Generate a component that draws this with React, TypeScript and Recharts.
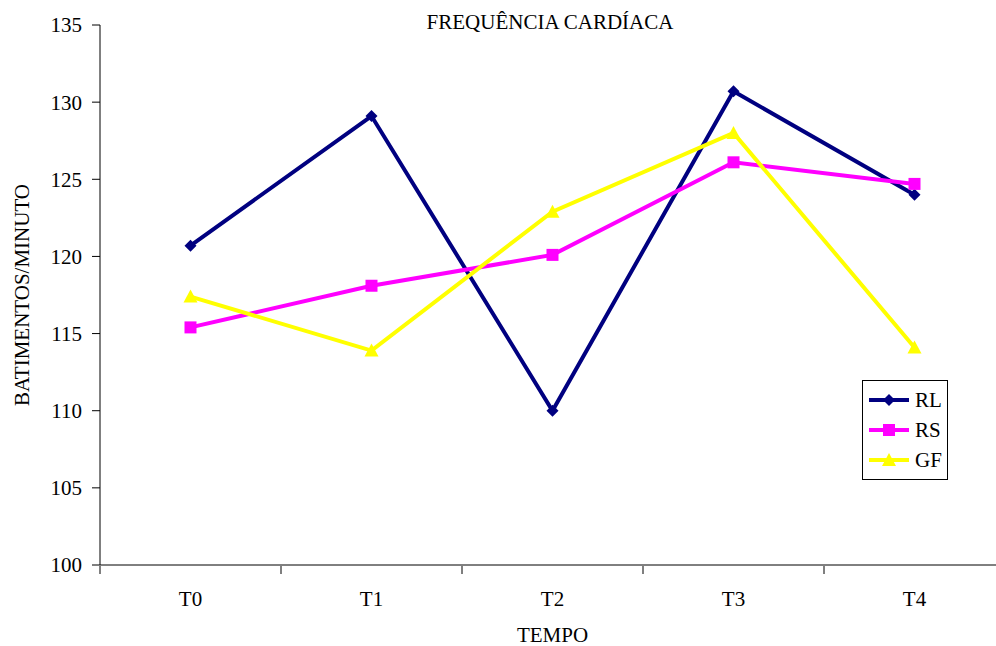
import { LineChart, Line, XAxis, YAxis } from 'recharts'

const categories = ['T0', 'T1', 'T2', 'T3', 'T4']
const rl = [120.7, 129.1, 110.0, 130.7, 124.0]
const rs = [115.4, 118.1, 120.1, 126.1, 124.7]
const gf = [117.4, 113.9, 122.9, 128.0, 114.1]
const yTicks = [100, 105, 110, 115, 120, 125, 130, 135]

const data = categories.map((c, i) => ({ name: c, RL: rl[i], RS: rs[i], GF: gf[i] }))
const font = '"Liberation Serif", "Times New Roman", serif'
const fs = 21
const half = 90.5

const series = [
  { key: 'RL', color: '#000080', shape: 'diamond' },
  { key: 'RS', color: '#ff00ff', shape: 'square' },
  { key: 'GF', color: '#ffff00', shape: 'triangle' },
]

function Marker({ cx, cy, shape, color }: any) {
  if (cx == null || cy == null) return null
  if (shape === 'diamond') return <polygon points={`${cx},${cy - 6} ${cx + 6},${cy} ${cx},${cy + 6} ${cx - 6},${cy}`} fill={color} />
  if (shape === 'square') return <rect x={cx - 6} y={cy - 6} width={12} height={12} fill={color} />
  return <polygon points={`${cx},${cy - 7} ${cx + 7},${cy + 6} ${cx - 7},${cy + 6}`} fill={color} />
}

// category label plus tick marks at the category boundaries
function CatTick({ x, y, payload, index }: any) {
  const top = y - 1
  return (
    <g>
      <line x1={x - half} y1={top} x2={x - half} y2={top + 8} stroke="#000" />
      {index === categories.length - 1 && <line x1={x + half} y1={top} x2={x + half} y2={top + 8} stroke="#000" />}
      <text x={x} y={top + 40} textAnchor="middle" fill="#000" fontFamily={font} fontSize={fs}>{payload.value}</text>
    </g>
  )
}

function LegendBox() {
  return (
    <div style={{ position: 'absolute', left: 862, top: 380, width: 86, boxSizing: 'border-box', border: '1px solid #000', background: '#fff', padding: '4px 4px', fontFamily: font, fontSize: fs }}>
      {series.map((s) => (
        <div key={s.key} style={{ display: 'flex', alignItems: 'center', height: 30 }}>
          <svg width={44} height={16}>
            <line x1={2} y1={8} x2={42} y2={8} stroke={s.color} strokeWidth={4} />
            <Marker cx={22} cy={8} shape={s.shape} color={s.color} />
          </svg>
          <span style={{ marginLeft: 4 }}>{s.key}</span>
        </div>
      ))}
    </div>
  )
}

export default function App() {
  return (
    <div style={{ position: 'absolute', left: 0, top: 0, width: 996, height: 646, overflow: 'hidden', background: '#fff' }}>
      <div style={{ position: 'absolute', left: 0, width: 1100, top: 10, textAlign: 'center', fontFamily: font, fontSize: fs }}>
        FREQUÊNCIA CARDÍACA
      </div>
      <LineChart width={1010} height={646} data={data} margin={{ top: 25, right: 5, left: 0, bottom: 0 }}>
        <XAxis dataKey="name" height={81} stroke="#000" tickLine={false} tickSize={0} padding={{ left: half, right: half }}
          tick={<CatTick />} interval={0}
          label={{ value: 'TEMPO', position: 'insideBottom', offset: 4, fill: '#000', fontFamily: font, fontSize: fs }} />
        <YAxis domain={[100, 135]} ticks={yTicks} width={100} stroke="#000" tickSize={8} tickMargin={10}
          tick={{ fill: '#000', fontFamily: font, fontSize: fs }}
          label={{ value: 'BATIMENTOS/MINUTO', angle: -90, position: 'insideLeft', offset: 22, fill: '#000', fontFamily: font, fontSize: fs, style: { textAnchor: 'middle' } }} />
        {series.map((s) => (
          <Line key={s.key} dataKey={s.key} stroke={s.color} strokeWidth={4} isAnimationActive={false}
            dot={(p: any) => <Marker key={p.index} cx={p.cx} cy={p.cy} shape={s.shape} color={s.color} />}
            activeDot={false} />
        ))}
      </LineChart>
      <LegendBox />
    </div>
  )
}
